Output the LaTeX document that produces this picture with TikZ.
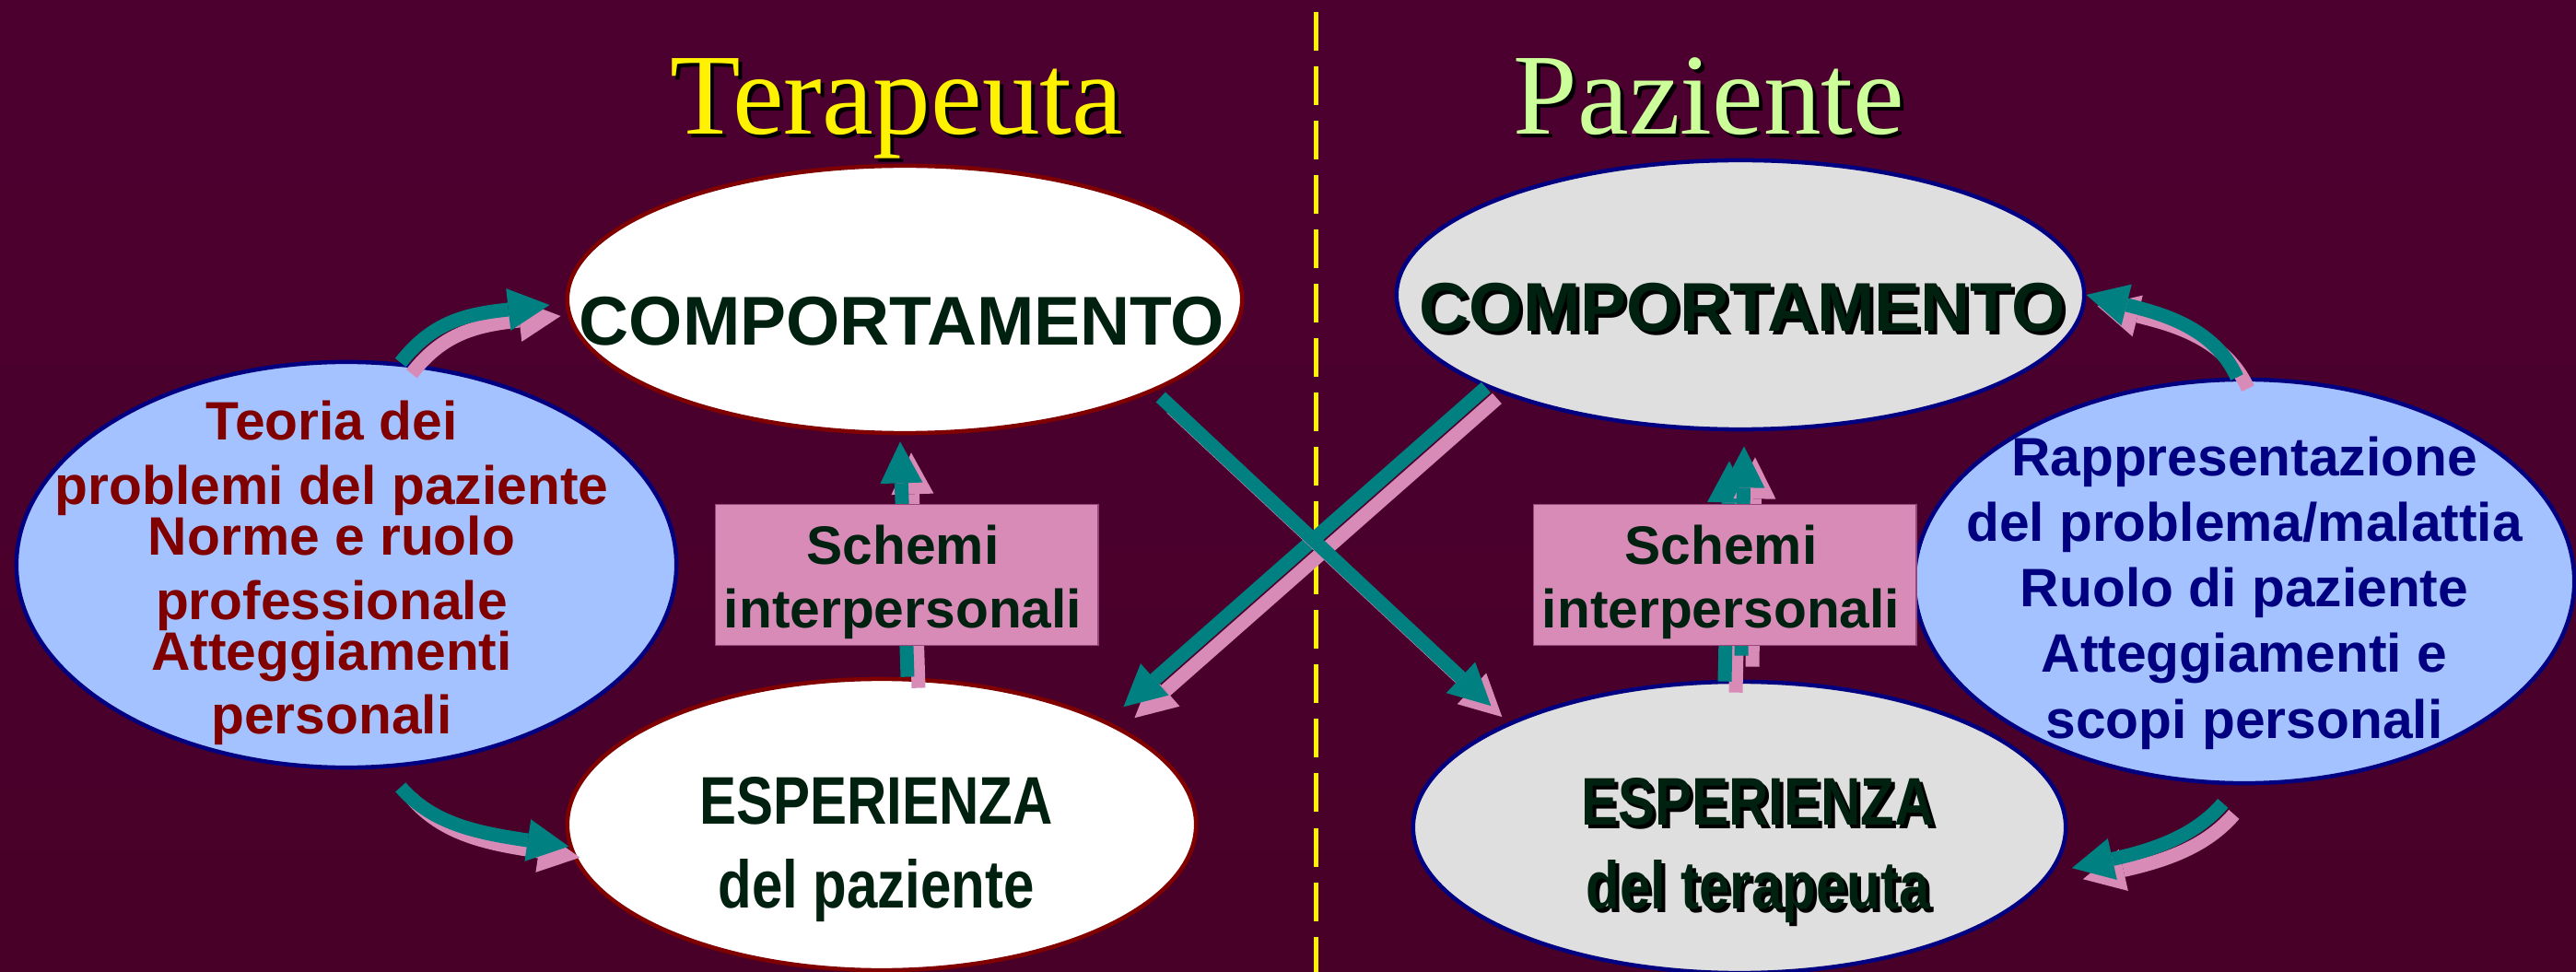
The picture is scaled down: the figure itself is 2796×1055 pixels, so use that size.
\documentclass[tikz,border=0pt]{standalone}
\usepackage{fontspec}
\setmainfont{Liberation Serif}
\newfontfamily\sansb{Liberation Sans}
\newfontfamily\narrowb{Liberation Sans}[FakeStretch=0.82]
\usetikzlibrary{calc,shapes.geometric,arrows.meta}

\definecolor{bgtop}{RGB}{76,0,48}
\definecolor{bgmid}{RGB}{36,0,24}
\definecolor{bgbot}{RGB}{72,0,40}
\definecolor{arrteal}{RGB}{0,128,128}
\definecolor{arrpink}{RGB}{217,139,184}
\definecolor{boxedge}{RGB}{150,70,120}
\definecolor{paleblue}{RGB}{164,194,255}
\definecolor{navyline}{RGB}{0,0,128}
\definecolor{darkred}{RGB}{128,0,0}
\definecolor{palegray}{RGB}{223,223,223}
\definecolor{darktext}{RGB}{0,32,16}
\definecolor{titlegreen}{RGB}{204,255,153}

\newcommand{\shd}[1]{\rlap{\kern0.04cm\raisebox{-0.04cm}{\color{black}#1}}#1}
\newcommand{\duoarrow}[3]{%
  \draw[pinkblk] ($(#1)+(12,12)$) #2 ($(#3)+(12,12)$);
  \draw[tealblk] (#1) #2 (#3);}

\tikzset{
  blk/.style={line width=0.15cm, -{Triangle[width=0.46cm,length=0.45cm,line width=0pt]}},
  tealblk/.style={blk, draw=arrteal},
  pinkblk/.style={blk, draw=arrpink},
  ell/.style={ellipse, line width=0.045cm, inner sep=0pt},
  title/.style={anchor=base, inner sep=0pt, font=\fontsize{35.6}{40}\selectfont},
  bigtxt/.style={anchor=base, inner sep=0pt, text=darktext, font=\sansb\bfseries\fontsize{21.3}{25}\selectfont},
  esptxt/.style={anchor=base, inner sep=0pt, align=center, text=darktext, font=\narrowb\bfseries\fontsize{20.8}{25.6}\selectfont},
  listtxt/.style={anchor=base, inner sep=0pt, align=center, font=\sansb\bfseries\fontsize{16.7}{19.9}\selectfont},
  schbox/.style={rectangle, draw=boxedge, line width=0.5pt, fill=arrpink, minimum width=4.15cm, minimum height=1.53cm, inner sep=0pt},
}

\begin{document}
\begin{tikzpicture}[x=0.01cm, y=-0.01cm]
  %%%%% START %%%%%
  \shade[top color=bgtop, middle color=bgmid, bottom color=bgbot] (0,0) rectangle (2796,1055);
  \useasboundingbox (0,0) rectangle (2796,1055);
  \draw[yellow, line width=0.05cm, dash pattern=on 0.42cm off 0.17cm] (1428,13) -- (1428,1055);

  % titles
  \node[title, text=yellow] (terap) at (973,146) {\shd{Terapeuta}};
  \node[title, text=titlegreen] (pazie) at (1855,146) {\shd{Paziente}};

  % ellipses
  \node[ell, draw=darkred, fill=white, minimum width=7.32cm, minimum height=2.90cm] (compL) at (982,325) {};
  \node[ell, draw=navyline, fill=palegray, minimum width=7.46cm, minimum height=2.92cm] (compR) at (1889,320) {};
  \node[ell, draw=darkred, fill=white, minimum width=6.82cm, minimum height=3.16cm] (espL) at (957,895) {};
  \node[ell, draw=navyline, fill=palegray, minimum width=7.08cm, minimum height=3.16cm] (espR) at (1888,898) {};
  \node[ell, draw=navyline, fill=paleblue, minimum width=7.16cm, minimum height=4.40cm] (teoria) at (376,613) {};
  \node[ell, draw=navyline, fill=paleblue, minimum width=7.16cm, minimum height=4.38cm] (rappr) at (2436,631) {};

  % texts (base = last line)
  \node[bigtxt] (compLtxt) at (979,375) {COMPORTAMENTO};
  \node[bigtxt] (compRtxt) at (1891,360) {\shd{COMPORTAMENTO}};
  \node[esptxt] (espLtxt) at (951,985) {ESPERIENZA\\del paziente};
  \node[esptxt] (espRtxt) at (1908,986) {\shd{ESPERIENZA}\\\shd{del terapeuta}};
  \node[listtxt, text=darkred] (teoriatxt) at (360,797) {Teoria dei\\problemi del paziente\\[-0.15cm]Norme e ruolo\\professionale\\[-0.15cm]Atteggiamenti\\personali};
  \node[listtxt, text=navyline, font=\sansb\bfseries\fontsize{16.7}{20.2}\selectfont] (rapprtxt) at (2436,801) {Rappresentazione\\del problema/malattia\\Ruolo di paziente\\Atteggiamenti e\\scopi personali};

  % curved arrows
  \duoarrow{teoria.75}{.. controls +(35,-45) and +(-90,10) ..}{[shift={(-17,6)}]compL.west}
  \duoarrow{[shift={(-8,0)}]rappr.north}{.. controls +(-25,-55) and +(80,20) ..}{compR.east}
  \duoarrow{[shift={(0,22)}]teoria.-75}{.. controls +(35,40) and +(-100,-15) ..}{espL.184}
  \duoarrow{[shift={(0,20)}]rappr.-96}{.. controls +(-30,35) and +(90,-20) ..}{[shift={(17,2)}]espR.-7}

  % straight arrows
  \duoarrow{[shift={(28,0)}]espL.north}{--}{[shift={(-5,7)}]compL.south}
  \duoarrow{[shift={(-16,2)}]espR.north}{--}{[shift={(-12,32)}]compR.south}
  \duoarrow{[shift={(2,-26)}]espR.north}{--}{[shift={(4,16)}]compR.south}
  \duoarrow{compR.200}{--}{[shift={(25,-12)}]espL.26}
  \duoarrow{[shift={(12,4)}]compL.-21}{--}{[shift={(-28,-14)}]espR.154}

  % schemi boxes
  \node[schbox] (schemiL) at (984,624) {};
  \node[schbox] (schemiR) at (1872,624) {};
  \node[listtxt, text=darktext] (schemiLtxt) at (980,682) {Schemi\\interpersonali};
  \node[listtxt, text=darktext] (schemiRtxt) at (1868,682) {Schemi\\interpersonali};
  %%%%% END %%%%%
\end{tikzpicture}
\end{document}
